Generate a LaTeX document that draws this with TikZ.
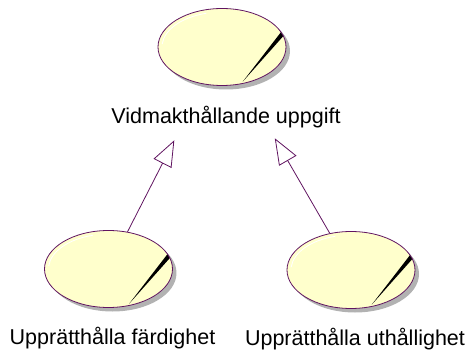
\documentclass[tikz,border=0pt]{standalone}
\usepackage{fontspec}
\setmainfont{Liberation Sans}
\usepackage{tikz}
\usetikzlibrary{arrows.meta, positioning, shadows, shapes.geometric}
\definecolor{roseline}{RGB}{96,20,96}
\definecolor{rosefill}{RGB}{255,255,204}

\begin{document}
\begin{tikzpicture}[node distance=70pt, on grid,
	usecase/.style={ellipse, draw=roseline, line width=0.8pt, fill=rosefill, minimum width=128pt, minimum height=77pt, inner sep=0pt,
		drop shadow={shadow xshift=4pt, shadow yshift=-4pt, fill=black!30, opacity=1},
		path picture={
			\fill[black] ([shift={(61pt,17.5pt)}]path picture bounding box.center) -- ([shift={(64.5pt,14.5pt)}]path picture bounding box.center) -- ([shift={(20.7pt,-34.7pt)}]path picture bounding box.center) -- cycle;
			\draw[white, line width=0.8pt] ([shift={(-59.8pt,3pt)}]path picture bounding box.center) arc[start angle=175, end angle=105, x radius=60pt, y radius=35pt];
		}},
	casename/.style={font=\fontsize{21.5}{25}\selectfont, xshift=4pt},
	gen/.style={-{Triangle[open, length=26pt, width=20pt]}, draw=roseline, line width=0.8pt, shorten >=63pt}]

\useasboundingbox (-222pt,47pt) rectangle (244pt,-303pt);

% Nodes
\node[usecase] (vidmakt) at (0,0) {};
\node[casename, below=of vidmakt] (vidmaktlabel) {Vidmakthållande uppgift};

\node[usecase, below left=222pt and 113.5pt of vidmakt] (fardighet) {};
\node[casename, below=69pt of fardighet] (fardighetlabel) {Upprätthålla färdighet};

\node[usecase, below right=223pt and 129pt of vidmakt] (uthallighet) {};
\node[casename, below=69pt of uthallighet] (uthallighetlabel) {Upprätthålla uthållighet};

% Generalisations
\draw[gen] (fardighet) -- (vidmakt);
\draw[gen] (uthallighet) -- (vidmakt);
\end{tikzpicture}
\end{document}
